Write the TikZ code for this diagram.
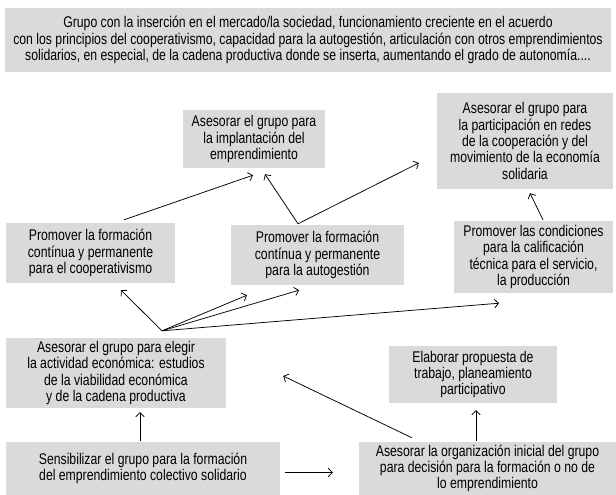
\documentclass[tikz,border=0pt]{standalone}
\usepackage{fontspec}
\setmainfont{Liberation Sans}[FakeStretch=0.79]
\usepackage{tikz}
\usetikzlibrary{positioning, calc, arrows, arrows.meta}
\definecolor{boxgray}{RGB}{218,218,218}
\tikzset{
	etapa/.style={fill=boxgray, align=center, inner sep=0pt, font=\fontsize{15.5}{16.3}\selectfont},
	flecha/.style={-{Straight Barb[length=4pt,width=8.5pt]}, line width=0.75pt},
}

\begin{document}
\begin{tikzpicture}[x=1pt, y=-1pt]
\useasboundingbox (0,0) rectangle (616,495);
\node[etapa, minimum width=606, minimum height=64] (grupo) at (308,40) {Grupo con la inserción en el mercado/la sociedad, funcionamiento creciente en el acuerdo\\con los principios del cooperativismo, capacidad para la autogestión, articulación con otros emprendimientos\\solidarios, en especial, de la cadena productiva donde se inserta, aumentando el grado de autonomía....};
\node[etapa, minimum width=142, minimum height=58] (implant) at (254,139) {Asesorar el grupo para\\la implantación del\\emprendimiento};
\node[etapa, minimum width=176, minimum height=96] (redes) at (525,141) {Asesorar el grupo para\\la participación en redes\\de la cooperación y del\\movimiento de la economía\\solidaria};
\node[etapa, minimum width=169, minimum height=60] (coop) at (90.5,253) {Promover la formación\\contínua y permanente\\para el cooperativismo};
\node[etapa, minimum width=173, minimum height=60] (autog) at (317.5,255) {Promover la formación\\contínua y permanente\\para la autogestión};
\node[etapa, minimum width=159, minimum height=72] (calif) at (533.5,257) {Promover las condiciones\\para la calificación\\técnica para el servicio,\\la producción};
\node[etapa, minimum width=220, minimum height=70] (elegir) at (116,373) {Asesorar el grupo para elegir\\la actividad económica: estudios\\de la viabilidad económica\\y de la cadena productiva};
\node[etapa, minimum width=168, minimum height=57] (elab) at (473,374.5) {Elaborar propuesta de\\trabajo, planeamiento\\participativo};
\node[etapa, minimum width=274, minimum height=53] (sensib) at (143,468.5) {Sensibilizar el grupo para la formación\\del emprendimiento colectivo solidario};
\node[etapa, minimum width=257, minimum height=53] (organiz) at (487.5,468.5) {Asesorar la organización inicial del grupo\\para decisión para la formación o no de\\lo emprendimiento};

\coordinate (fan) at ($(elegir.north)+(46,-7)$);
\coordinate (autogtop) at ($(autog.north)+(-19.5,-1)$);
\draw[flecha] ($(coop.north)+(33.5,-3)$) -- ($(implant.south)+(-1,7)$);
\draw[flecha] (autogtop) -- ($(implant.south)+(11,6)$);
\draw[flecha] (autogtop) -- ($(redes.west)+(-18,22)$);
\draw[flecha] ($(calif.north)+(9.5,-1)$) -- ($(redes.south)+(5,4)$);
\foreach \dest/\dx/\dy in {coop/30.5/7, autog/-70.5/10, autog/-18.5/5, calif/-34.5/10}
	\draw[flecha] (fan) -- ($(\dest.south)+(\dx,\dy)$);
\draw[flecha] ($(sensib.north)+(-3,-1)$) -- ($(elegir.south)+(24,4)$);
\draw[flecha] ($(sensib.east)+(5,4)$) -- ($(organiz.west)+(-26,4)$);
\draw[flecha] ($(organiz.north)+(-75.5,-4)$) -- ($(elegir.east)+(57,3)$);
\draw[flecha] ($(organiz.north)+(-11.5,-1)$) -- ($(elab.south)+(3,7)$);
\end{tikzpicture}
\end{document}
